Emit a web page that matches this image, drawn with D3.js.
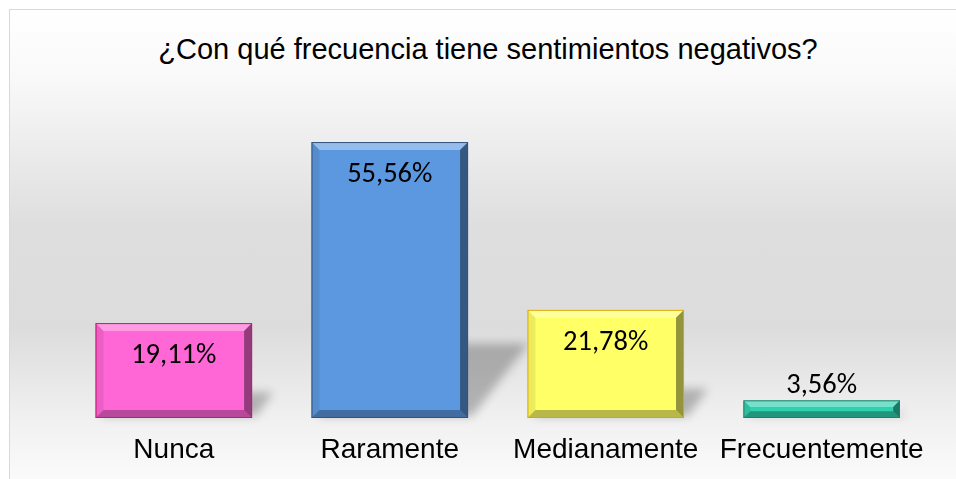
<!DOCTYPE html>
<html>
<head>
<meta charset="utf-8">
<script src="https://cdn.jsdelivr.net/npm/d3@7/dist/d3.min.js"></script>
<style>
  html, body { margin: 0; padding: 0; background: #ffffff; }
  svg { display: block; }
</style>
</head>
<body>
<div id="chart"></div>
<script>
// data
const title = "¿Con qué frecuencia tiene sentimientos negativos?";
const categories = ["Nunca", "Raramente", "Medianamente", "Frecuentemente"];
const values = [19.11, 55.56, 21.78, 3.56];
const valueLabels = ["19,11%", "55,56%", "21,78%", "3,56%"];

// palette (fill, edge)
const fills = ["#ff66d6", "#5c98e0", "#ffff66", "#2fd0ae"];
const edges = ["#c8186a", "#33537d", "#e0a400", "#237d6c"];

const width = 956;
const height = 479;
const baseY = 418;

const svg = d3.select("#chart")
    .append("svg")
    .attr("width", width)
    .attr("height", height);

const defs = svg.append("defs");

// chart area background: white -> grey -> white
const bg = defs.append("linearGradient")
    .attr("id", "bg")
    .attr("x1", 0).attr("y1", 0)
    .attr("x2", 0).attr("y2", 1);
[[0, "#ffffff"], [0.14, "#f9f9f9"], [0.45, "#dedede"], [0.66, "#dcdcdc"], [0.86, "#f1f1f1"], [1, "#fcfcfc"]]
    .forEach(s => bg.append("stop").attr("offset", s[0]).attr("stop-color", s[1]));

defs.append("filter")
    .attr("id", "blur")
    .attr("x", "-50%").attr("y", "-50%")
    .attr("width", "200%").attr("height", "200%")
    .append("feGaussianBlur")
    .attr("stdDeviation", 5);

svg.append("rect")
    .attr("x", 9.5)
    .attr("y", 9.5)
    .attr("width", 960)
    .attr("height", 480)
    .attr("fill", "url(#bg)")
    .attr("stroke", "#d9d9d9")
    .attr("stroke-width", 1);

// scales
const x = d3.scaleBand()
    .domain(categories)
    .range([65.5, 930])
    .paddingInner(0.275)
    .paddingOuter(0.139);

const y = d3.scaleLinear()
    .domain([0, 60])
    .range([baseY, 120]);

// title
svg.append("text")
    .attr("x", 488)
    .attr("y", 59)
    .attr("text-anchor", "middle")
    .attr("font-family", "'Liberation Sans', Arial, sans-serif")
    .attr("font-size", 29)
    .attr("fill", "#000")
    .text(title);

// perspective shadows behind bars
const shadows = svg.append("g").attr("filter", "url(#blur)");
categories.forEach((c, i) => {
    const x0 = x(c), x1 = x(c) + x.bandwidth();
    const h = baseY - y(values[i]);
    const sh = h * 0.27;
    const sk = h * 0.22;
    shadows.append("polygon")
        .attr("points", [
            [x0 + 6, baseY - 2], [x1 + 4, baseY - 2],
            [x1 + sk, baseY - sh], [x0 + sk, baseY - sh]
        ].map(p => p.join(",")).join(" "))
        .attr("fill", "#000")
        .attr("opacity", 0.25);
});

// bars with bevel
const bars = svg.append("g");
categories.forEach((c, i) => {
    const x0 = x(c), x1 = x(c) + x.bandwidth();
    const y0 = y(values[i]), y1 = baseY;
    const b = Math.min(8, (y1 - y0) / 2.6);
    const g = bars.append("g");
    const poly = pts => pts.map(p => p.join(",")).join(" ");

    g.append("rect")
        .attr("x", x0).attr("y", y0)
        .attr("width", x1 - x0).attr("height", y1 - y0)
        .attr("fill", fills[i]);
    // top bevel (light)
    g.append("polygon")
        .attr("points", poly([[x0, y0], [x1, y0], [x1 - b, y0 + b], [x0 + b, y0 + b]]))
        .attr("fill", "#fff").attr("opacity", 0.35);
    // left bevel
    g.append("polygon")
        .attr("points", poly([[x0, y0], [x0 + b, y0 + b], [x0 + b, y1 - b], [x0, y1]]))
        .attr("fill", "#000").attr("opacity", 0.08);
    // right bevel (dark)
    g.append("polygon")
        .attr("points", poly([[x1, y0], [x1 - b, y0 + b], [x1 - b, y1 - b], [x1, y1]]))
        .attr("fill", "#000").attr("opacity", 0.42);
    // bottom bevel (dark)
    g.append("polygon")
        .attr("points", poly([[x0, y1], [x1, y1], [x1 - b, y1 - b], [x0 + b, y1 - b]]))
        .attr("fill", "#000").attr("opacity", 0.28);
    g.append("rect")
        .attr("x", x0 + 0.5).attr("y", y0 + 0.5)
        .attr("width", x1 - x0 - 1).attr("height", y1 - y0 - 1)
        .attr("fill", "none")
        .attr("stroke", edges[i])
        .attr("stroke-width", 1);
});

// value labels
svg.append("g")
    .selectAll("text")
    .data(values)
    .enter()
    .append("text")
    .attr("x", (d, i) => x(categories[i]) + x.bandwidth() / 2)
    .attr("y", d => (baseY - y(d) > 50) ? y(d) + 40 : y(d) - 7)
    .attr("text-anchor", "middle")
    .attr("font-family", "Carlito, Calibri, Lato, sans-serif")
    .attr("font-size", 28.5)
    .attr("fill", "#000")
    .text((d, i) => valueLabels[i]);

// category axis labels
const xAxis = d3.axisBottom(x).tickSize(0).tickPadding(0);
const xAxisGroup = svg.append("g")
    .attr("transform", `translate(0, ${baseY})`)
    .call(xAxis);
xAxisGroup.select(".domain").remove();
xAxisGroup.selectAll("text")
    .attr("dy", null)
    .attr("y", 40)
    .attr("font-family", "'Liberation Sans', Arial, sans-serif")
    .attr("font-size", 28)
    .attr("fill", "#000");
</script>
</body>
</html>
